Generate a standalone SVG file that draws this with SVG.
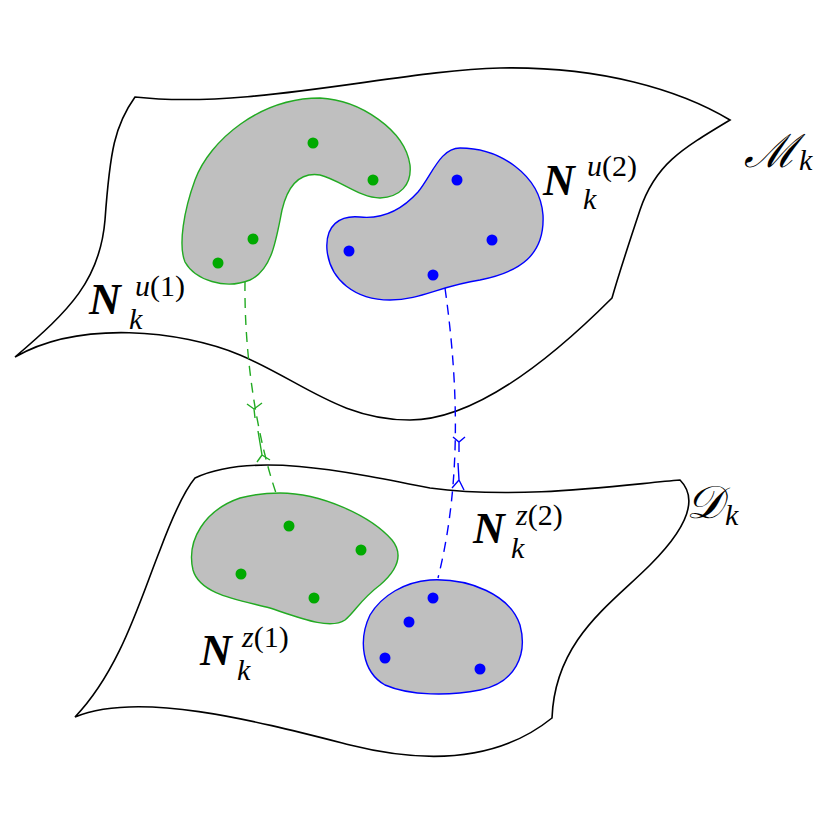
<svg xmlns="http://www.w3.org/2000/svg" width="832" height="838" viewBox="0 0 832 838">
<style>
.m{fill:none;stroke:#000;stroke-width:1.6}
.g{fill:#bfbfbf;stroke:#22aa22;stroke-width:1.4}
.b{fill:#bfbfbf;stroke:#0000ff;stroke-width:1.4}
.gd{fill:#00aa00}
.bd{fill:#0000ff}
.gl{fill:none;stroke:#22aa22;stroke-width:1.4;stroke-dasharray:10,7}
.bl{fill:none;stroke:#0000ff;stroke-width:1.4;stroke-dasharray:10,7}
.gt{fill:none;stroke:#22aa22;stroke-width:1.4}
.bt{fill:none;stroke:#0000ff;stroke-width:1.4}
.N{font-family:'Liberation Serif',serif;font-weight:bold;font-style:italic;font-size:44px}
.s{font-family:'Liberation Serif',serif;font-weight:normal;font-style:italic;font-size:30px}
.r{font-style:normal}
.cal{font-family:'DejaVu Serif',serif;font-style:italic;font-size:46px}
</style>
<g id="manifold-M">
<path class="m" d="M135,97 C250,110 400,70 500,68 C600,66 680,90 730,120 C680,150 655,165 640,210 C630,240 620,270 612,298 C560,350 480,420 410,420 C340,420 300,380 240,355 C180,330 80,320 15,357 C70,310 100,280 105,220 C110,150 115,125 135,97 Z"/>
<text class="cal" x="744" y="167">ℳ<tspan class="s" dx="2" dy="3">k</tspan></text>
</g>
<g id="manifold-D">
<path class="m" d="M195,478 C250,452 340,470 430,488 C520,500 620,485 680,480 C700,500 685,530 650,565 C610,605 555,640 552,718 C500,760 430,765 350,745 C260,722 140,690 75,717 C120,670 140,600 160,550 C175,510 185,490 195,478 Z"/>
<text class="cal" x="686" y="518">𝒟<tspan class="s" dx="2" dy="7">k</tspan></text>
</g>
<g id="connectors">
<path class="gl" d="M245,281 C244,360 258,440 276,493"/>
<path class="gt" d="M247,404 L254,409 L262,403 M254,409 L255,418"/>
<path class="gt" d="M258,431 L262,455 L257,462 M262,455 L270,460"/>
<path class="bl" d="M445,288 C455,360 465,470 438,578"/>
<path class="bt" d="M453,437 L459,442 L465,437 M459,442 L459,452"/>
<path class="bt" d="M458,463 L459,480 L452,488 M459,480 L464,490"/>
</g>
<g id="Nu1">
<path class="g" d="M320,98 C360,100 405,130 410,165 C412,185 400,197 380,198 C360,198 340,180 320,175 C300,172 288,185 282,210 C276,240 272,270 250,280 C225,290 195,280 185,262 C178,245 184,210 195,180 C210,140 260,98 320,98 Z"/>
<circle class="gd" cx="313" cy="143" r="5.5"/>
<circle class="gd" cx="373" cy="180" r="5.5"/>
<circle class="gd" cx="253" cy="239" r="5.5"/>
<circle class="gd" cx="218" cy="263" r="5.5"/>
<text class="N" x="89" y="314">N<tspan class="s" x="129" y="329">k</tspan><tspan class="s" x="135" y="296">u<tspan class="r">(1)</tspan></tspan></text>
</g>
<g id="Nu2">
<path class="b" d="M460,148 C500,148 540,175 543,215 C545,255 520,272 480,280 C440,286 420,300 390,300 C355,300 330,280 327,250 C325,225 340,215 360,217 C380,219 400,212 418,192 C432,175 440,148 460,148 Z"/>
<circle class="bd" cx="457" cy="180" r="5.5"/>
<circle class="bd" cx="492" cy="240" r="5.5"/>
<circle class="bd" cx="433" cy="275" r="5.5"/>
<circle class="bd" cx="349" cy="251" r="5.5"/>
<text class="N" x="543" y="195">N<tspan class="s" x="583" y="209">k</tspan><tspan class="s" x="587" y="176">u<tspan class="r">(2)</tspan></tspan></text>
</g>
<g id="Nz1">
<path class="g" d="M280,493 C320,493 370,515 392,540 C405,556 395,572 380,585 C360,600 355,612 345,620 C330,630 300,618 270,608 C240,600 200,595 193,570 C186,540 205,510 240,498 C255,494 268,493 280,493 Z"/>
<circle class="gd" cx="289" cy="526" r="5.5"/>
<circle class="gd" cx="361" cy="550" r="5.5"/>
<circle class="gd" cx="241" cy="574" r="5.5"/>
<circle class="gd" cx="314" cy="598" r="5.5"/>
<text class="N" x="200" y="665">N<tspan class="s" x="237" y="680">k</tspan><tspan class="s" x="242" y="647">z<tspan class="r">(1)</tspan></tspan></text>
</g>
<g id="Nz2">
<path class="b" d="M430,580 C470,578 510,595 520,625 C528,655 515,683 480,690 C450,696 410,696 385,685 C362,672 358,640 370,615 C382,595 405,582 430,580 Z"/>
<circle class="bd" cx="433" cy="598" r="5.5"/>
<circle class="bd" cx="409" cy="622" r="5.5"/>
<circle class="bd" cx="385" cy="658" r="5.5"/>
<circle class="bd" cx="480" cy="669" r="5.5"/>
<text class="N" x="473" y="543">N<tspan class="s" x="511" y="558">k</tspan><tspan class="s" x="516" y="525">z<tspan class="r">(2)</tspan></tspan></text>
</g>
</svg>
